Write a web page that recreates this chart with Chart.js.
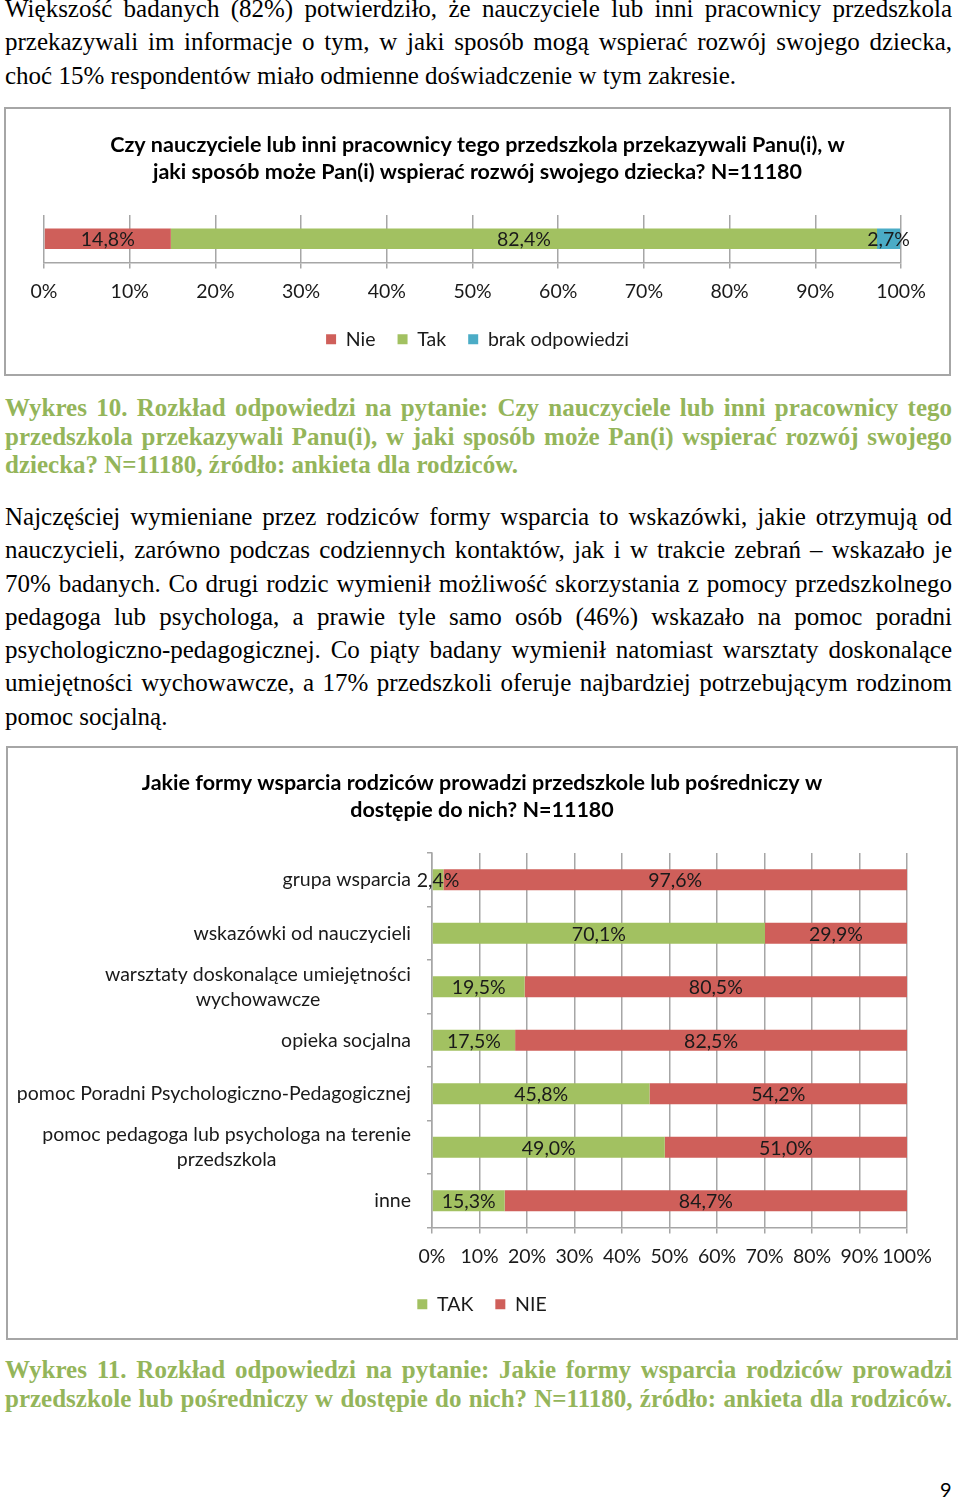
<!DOCTYPE html>
<html lang="pl">
<head>
    <meta charset="UTF-8">
    <title>Wykres 10 i 11 - ankieta dla rodziców</title>
    <script src="https://cdn.jsdelivr.net/npm/chart.js"></script>
    <style>
        body {
            margin: 0;
            width: 960px;
            height: 1501px;
            position: relative;
            overflow: hidden;
            background: #fff;
        }

        .txt {
            position: absolute;
            left: 5px;
            width: 947px;
            font-family: 'Liberation Serif', 'Times New Roman', serif;
            font-size: 25px;
            line-height: 33.3px;
            color: #000;
        }

        .txt div {
            text-align: justify;
            text-align-last: justify;
        }

        .txt div.last {
            text-align: left;
            text-align-last: left;
        }

        .cap {
            font-weight: bold;
            color: #94b55a;
            line-height: 28.7px;
        }

        .box {
            position: absolute;
            border: 2px solid #a6a6a6;
            box-sizing: border-box;
        }

        .pagenum {
            position: absolute;
            left: 940px;
            top: 1477px;
            font-family: Lato, sans-serif;
            font-size: 20px;
        }
    </style>
</head>
<body>
    <div class="txt" style="top:-8px">
        <div>Większość badanych (82%) potwierdziło, że nauczyciele lub inni pracownicy przedszkola</div>
        <div>przekazywali im informacje o tym, w jaki sposób mogą wspierać rozwój swojego dziecka,</div>
        <div class="last">choć 15% respondentów miało odmienne doświadczenie w tym zakresie.</div>
    </div>

    <!-- Wykres 10 -->
    <div class="box" style="left:4px; top:107px; width:947px; height:269px;">
        <canvas id="wykres10"></canvas>
    </div>

    <div class="txt cap" style="top:394px">
        <div>Wykres 10. Rozkład odpowiedzi na pytanie: Czy nauczyciele lub inni pracownicy tego</div>
        <div>przedszkola przekazywali Panu(i), w jaki sposób może Pan(i) wspierać rozwój swojego</div>
        <div class="last">dziecka? N=11180, źródło: ankieta dla rodziców.</div>
    </div>

    <div class="txt" style="top:500px">
        <div>Najczęściej wymieniane przez rodziców formy wsparcia to wskazówki, jakie otrzymują od</div>
        <div>nauczycieli, zarówno podczas codziennych kontaktów, jak i w trakcie zebrań – wskazało je</div>
        <div>70% badanych. Co drugi rodzic wymienił możliwość skorzystania z pomocy przedszkolnego</div>
        <div>pedagoga lub psychologa, a prawie tyle samo osób (46%) wskazało na pomoc poradni</div>
        <div>psychologiczno-pedagogicznej. Co piąty badany wymienił natomiast warsztaty doskonalące</div>
        <div>umiejętności wychowawcze, a 17% przedszkoli oferuje najbardziej potrzebującym rodzinom</div>
        <div class="last">pomoc socjalną.</div>
    </div>

    <!-- Wykres 11 -->
    <div class="box" style="left:6px; top:746px; width:952px; height:594px;">
        <canvas id="wykres11"></canvas>
    </div>

    <div class="txt cap" style="top:1356px">
        <div>Wykres 11. Rozkład odpowiedzi na pytanie: Jakie formy wsparcia rodziców prowadzi</div>
        <div>przedszkole lub pośredniczy w dostępie do nich? N=11180, źródło: ankieta dla rodziców.</div>
    </div>

    <div class="pagenum">9</div>

    <script>
        // Wykres 10
        const tytul10 = ['Czy nauczyciele lub inni pracownicy tego przedszkola przekazywali Panu(i), w',
                         'jaki sposób może Pan(i) wspierać rozwój swojego dziecka? N=11180'];
        const kategorie10 = [''];
        const nie10 = [14.8];
        const tak10 = [82.4];
        const brak10 = [2.7];

        // Wykres 11
        const tytul11 = ['Jakie formy wsparcia rodziców prowadzi przedszkole lub pośredniczy w',
                         'dostępie do nich? N=11180'];
        const kategorie11 = [
            'grupa wsparcia',
            'wskazówki od nauczycieli',
            ['warsztaty doskonalące umiejętności', 'wychowawcze'],
            'opieka socjalna',
            'pomoc Poradni Psychologiczno-Pedagogicznej',
            ['pomoc pedagoga lub psychologa na terenie', 'przedszkola'],
            'inne'
        ];
        const tak11 = [2.4, 70.1, 19.5, 17.5, 45.8, 49.0, 15.3];
        const nie11 = [97.6, 29.9, 80.5, 82.5, 54.2, 51.0, 84.7];

        const CZERWONY = '#cf5f5a';
        const ZIELONY = '#a2c161';
        const NIEBIESKI = '#4bacc6';
        const SZARY = '#a6a6a6';
        const ROZMIAR = 19.5;

        Chart.defaults.font.family = 'Lato, sans-serif';
        Chart.defaults.font.size = ROZMIAR;
        Chart.defaults.color = '#1a1a1a';

        function procent(v) {
            return v.toFixed(1).replace('.', ',') + '%';
        }

        // wartości w środku słupków
        const etykietyWartosci = {
            id: 'etykietyWartosci',
            afterDatasetsDraw(chart) {
                const ctx = chart.ctx;
                ctx.save();
                ctx.font = ROZMIAR + 'px Lato, sans-serif';
                ctx.fillStyle = '#1a1a1a';
                ctx.textAlign = 'center';
                ctx.textBaseline = 'middle';
                chart.data.datasets.forEach((ds, i) => {
                    chart.getDatasetMeta(i).data.forEach((bar, j) => {
                        const p = bar.getCenterPoint();
                        ctx.fillText(procent(ds.data[j]), p.x, p.y + 1);
                    });
                });
                ctx.restore();
            }
        };

        // etykiety kategorii: blok wyrównany do prawej, linie wyśrodkowane
        const etykietyKategorii = {
            id: 'etykietyKategorii',
            afterDraw(chart) {
                const ctx = chart.ctx;
                const skala = chart.scales.y;
                const prawa = chart.chartArea.left - 21;
                ctx.save();
                ctx.font = ROZMIAR + 'px Lato, sans-serif';
                ctx.fillStyle = '#1a1a1a';
                ctx.textAlign = 'center';
                ctx.textBaseline = 'middle';
                chart.data.labels.forEach((lab, i) => {
                    const linie = Array.isArray(lab) ? lab : [lab];
                    const szer = Math.max(...linie.map(l => ctx.measureText(l).width));
                    const yc = skala.getPixelForValue(i);
                    linie.forEach((l, k) => {
                        ctx.fillText(l, prawa - szer / 2, yc + (k - (linie.length - 1) / 2) * 25);
                    });
                });
                ctx.restore();
            }
        };

        function osX() {
            return {
                stacked: true,
                min: 0,
                max: 100,
                ticks: {
                    stepSize: 10,
                    autoSkip: false,
                    maxRotation: 0,
                    padding: 11.3,
                    callback: v => v + '%'
                },
                grid: { color: SZARY, lineWidth: 1.5, tickLength: 6 },
                border: { color: SZARY, width: 1.5 },
                afterFit: s => { s.height = 45; }
            };
        }

        function tytul(tekst, gora) {
            return {
                display: true,
                text: tekst,
                color: '#000',
                font: { size: 21.5, weight: 'bold', lineHeight: 27 / 21.5 },
                padding: { top: gora, bottom: 29.5 }
            };
        }

        const legenda = {
            position: 'bottom',
            labels: { boxWidth: 10, boxHeight: 10, padding: 22, color: '#1a1a1a' }
        };

        // pusta oś po prawej, żeby wyrównać obszar wykresu
        function osPusta(szer) {
            return {
                type: 'category',
                position: 'right',
                display: true,
                grid: { display: false },
                ticks: { display: false },
                border: { display: false },
                afterFit: s => { s.width = szer; }
            };
        }

        function rysuj() {
            new Chart(document.getElementById('wykres10'), {
                type: 'bar',
                data: {
                    labels: kategorie10,
                    datasets: [
                        { label: 'Nie', data: nie10, backgroundColor: CZERWONY },
                        { label: 'Tak', data: tak10, backgroundColor: ZIELONY },
                        { label: 'brak odpowiedzi', data: brak10, backgroundColor: NIEBIESKI }
                    ]
                },
                options: {
                    indexAxis: 'y',
                    responsive: true,
                    maintainAspectRatio: false,
                    animation: false,
                    datasets: { bar: { barPercentage: 0.43, categoryPercentage: 1 } },
                    layout: { padding: { left: 30, right: 30, top: 0, bottom: 15 } },
                    scales: {
                        x: osX(),
                        y: {
                            stacked: true,
                            grid: { display: false },
                            ticks: { display: false },
                            border: { display: false },
                            afterFit: s => { s.width = 8; }
                        },
                        y2: osPusta(18)
                    },
                    plugins: {
                        title: tytul(tytul10, 22.5),
                        legend: legenda,
                        tooltip: { enabled: false }
                    }
                },
                plugins: [etykietyWartosci]
            });

            new Chart(document.getElementById('wykres11'), {
                type: 'bar',
                data: {
                    labels: kategorie11,
                    datasets: [
                        { label: 'TAK', data: tak11, backgroundColor: ZIELONY },
                        { label: 'NIE', data: nie11, backgroundColor: CZERWONY }
                    ]
                },
                options: {
                    indexAxis: 'y',
                    responsive: true,
                    maintainAspectRatio: false,
                    animation: false,
                    datasets: { bar: { barPercentage: 0.39, categoryPercentage: 1 } },
                    layout: { padding: { left: 30, right: 30, top: 0, bottom: 14 } },
                    scales: {
                        x: osX(),
                        y: {
                            stacked: true,
                            grid: { offset: true, drawOnChartArea: false, tickLength: 5, color: SZARY, lineWidth: 1.5 },
                            ticks: { display: false },
                            border: { color: SZARY, width: 1.5 },
                            afterFit: s => { s.width = 394; }
                        },
                        y2: osPusta(19)
                    },
                    plugins: {
                        title: tytul(tytul11, 21.5),
                        legend: legenda,
                        tooltip: { enabled: false }
                    }
                },
                plugins: [etykietyWartosci, etykietyKategorii]
            });
        }

        document.fonts.load(ROZMIAR + 'px Lato').then(rysuj, rysuj);
    </script>
</body>
</html>
